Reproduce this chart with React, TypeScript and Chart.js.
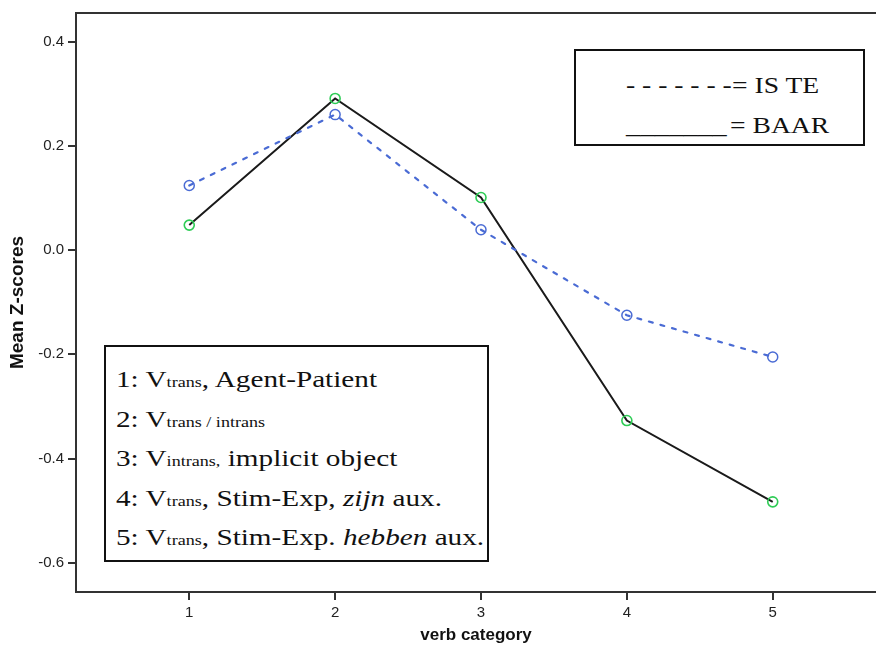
import React, { useEffect, useRef } from "react";
import { Chart, registerables } from "chart.js";

Chart.register(...registerables);

const categories = [1, 2, 3, 4, 5];
const isTeValues = [0.124, 0.26, 0.039, -0.125, -0.205];
const baarValues = [0.048, 0.291, 0.101, -0.327, -0.483];
const yTickValues = [-0.6, -0.4, -0.2, 0.0, 0.2, 0.4];
const xTickValues = [1, 2, 3, 4, 5];
const seriesNames = ["IS TE", "BAAR"];
const legendMarks = ["- - - - - - -", "_______"];
const xAxisTitle = "verb category";
const yAxisTitle = "Mean Z-scores";

type Seg = { t: string; sub?: boolean; it?: boolean };
const categoryLines: Seg[][] = [
  [{ t: "1: V" }, { t: "trans", sub: true }, { t: ", Agent-Patient" }],
  [{ t: "2: V" }, { t: "trans / intrans", sub: true }],
  [{ t: "3: V" }, { t: "intrans,", sub: true }, { t: " implicit object" }],
  [{ t: "4: V" }, { t: "trans", sub: true }, { t: ", Stim-Exp, " }, { t: "zijn", it: true }, { t: " aux." }],
  [{ t: "5: V" }, { t: "trans", sub: true }, { t: ", Stim-Exp. " }, { t: "hebben", it: true }, { t: " aux." }],
];

const topFramePlugin = {
  id: "topFrame",
  afterDraw(chart: any) {
    const { ctx, chartArea } = chart;
    ctx.save();
    ctx.strokeStyle = "#333";
    ctx.lineWidth = 2;
    ctx.beginPath();
    ctx.moveTo(chartArea.left, chartArea.top);
    ctx.lineTo(chart.width, chartArea.top);
    ctx.stroke();
    ctx.restore();
  },
};

const SERIF = "'Liberation Serif', 'Times New Roman', serif";
const SANS = "'Liberation Sans', Arial, sans-serif";

export default function App() {
  const ref = useRef<HTMLCanvasElement | null>(null);

  useEffect(() => {
    if (!ref.current) return;
    const chart = new Chart(ref.current, {
      type: "line",
      data: {
        datasets: [
          {
            label: seriesNames[0],
            data: categories.map((c, i) => ({ x: c, y: isTeValues[i] })),
            borderColor: "#4a6bd4",
            borderWidth: 2.2,
            borderDash: [4, 8],
            borderCapStyle: "round",
            pointRadius: 5,
            pointBorderWidth: 1.5,
            pointBorderColor: "#4a6bd4",
            pointBackgroundColor: "rgba(255,255,255,0)",
            tension: 0,
          },
          {
            label: seriesNames[1],
            data: categories.map((c, i) => ({ x: c, y: baarValues[i] })),
            borderColor: "#1a1a1a",
            borderWidth: 2,
            pointRadius: 5,
            pointBorderWidth: 1.6,
            pointBorderColor: "#2ecc55",
            pointBackgroundColor: "rgba(255,255,255,0)",
            tension: 0,
          },
        ],
      },
      options: {
        animation: false,
        responsive: false,
        devicePixelRatio: 1,
        layout: { autoPadding: false, padding: { top: 10, left: 0, right: 0, bottom: 0 } },
        plugins: { legend: { display: false }, tooltip: { enabled: false } },
        scales: {
          x: {
            type: "linear",
            min: 0.2235,
            max: 5.708,
            afterBuildTicks: (s: any) => {
              s.ticks = xTickValues.map((v) => ({ value: v }));
            },
            afterFit: (s: any) => {
              s.height = 63;
            },
            grid: { drawOnChartArea: false, drawTicks: true, tickLength: 8, color: "#333", lineWidth: 2 },
            border: { display: true, color: "#333", width: 2 },
            ticks: {
              font: { family: SANS, size: 15 },
              color: "#222",
              padding: 4,
              maxRotation: 0,
              callback: (v: any) => String(v),
            },
            title: {
              display: true,
              text: xAxisTitle,
              font: { family: SANS, size: 17, weight: "bold" },
              color: "#111",
              padding: { top: 0, bottom: 9 },
            },
          },
          y: {
            type: "linear",
            min: -0.656,
            max: 0.455,
            afterBuildTicks: (s: any) => {
              s.ticks = yTickValues.map((v) => ({ value: v }));
            },
            afterFit: (s: any) => {
              s.width = 76;
            },
            grid: { drawOnChartArea: false, drawTicks: true, tickLength: 8, color: "#333", lineWidth: 2 },
            border: { display: true, color: "#333", width: 2 },
            ticks: {
              font: { family: SANS, size: 15 },
              color: "#222",
              padding: 4,
              callback: (v: any) => Number(v).toFixed(1),
            },
            title: {
              display: true,
              text: yAxisTitle,
              font: { family: SANS, size: 19, weight: "bold" },
              color: "#111",
              padding: { top: 6.5, bottom: 0 },
            },
          },
        },
      },
      plugins: [topFramePlugin],
    } as any);
    return () => chart.destroy();
  }, []);

  const lineStyle = (top: number, left: number, scale: number): React.CSSProperties => ({
    position: "absolute",
    left,
    top,
    fontFamily: SERIF,
    fontSize: 23,
    lineHeight: "26px",
    whiteSpace: "nowrap",
    color: "#111",
    transform: `scaleX(${scale})`,
    transformOrigin: "left center",
  });

  // baseline ~ top + 20.5 for 23px in 26px line box
  const catBaselines = [387, 427, 466, 506.5, 545];
  const legBaselines = [93, 133];
  const legTextLeft = [732, 730];

  return (
    <div style={{ position: "fixed", left: 0, top: 0, width: 876, height: 655, background: "#fff" }}>
      <canvas ref={ref} width={876} height={655} style={{ position: "absolute", left: 0, top: 0, width: 876, height: 655 }} />
      <div
        style={{
          position: "absolute",
          left: 574,
          top: 49,
          width: 291,
          height: 97,
          boxSizing: "border-box",
          border: "2px solid #111",
          background: "#fff",
        }}
      />
      {seriesNames.map((name, i) => (
        <React.Fragment key={name}>
          <div style={lineStyle(legBaselines[i] - 20.5, 626, i === 0 ? 1.2 : 1.25)}>{legendMarks[i]}</div>
          <div style={lineStyle(legBaselines[i] - 20.5, legTextLeft[i], 1.2)}>= {name}</div>
        </React.Fragment>
      ))}
      <div
        style={{
          position: "absolute",
          left: 104,
          top: 345,
          width: 385,
          height: 217,
          boxSizing: "border-box",
          border: "2px solid #111",
          background: "#fff",
        }}
      />
      {categoryLines.map((segs, i) => (
        <div key={i} style={lineStyle(catBaselines[i] - 20.5, 116, 1.27)}>
          {segs.map((s, j) => (
            <span
              key={j}
              style={{
                fontSize: s.sub ? "0.62em" : undefined,
                fontStyle: s.it ? "italic" : undefined,
              }}
            >
              {s.t}
            </span>
          ))}
        </div>
      ))}
    </div>
  );
}
